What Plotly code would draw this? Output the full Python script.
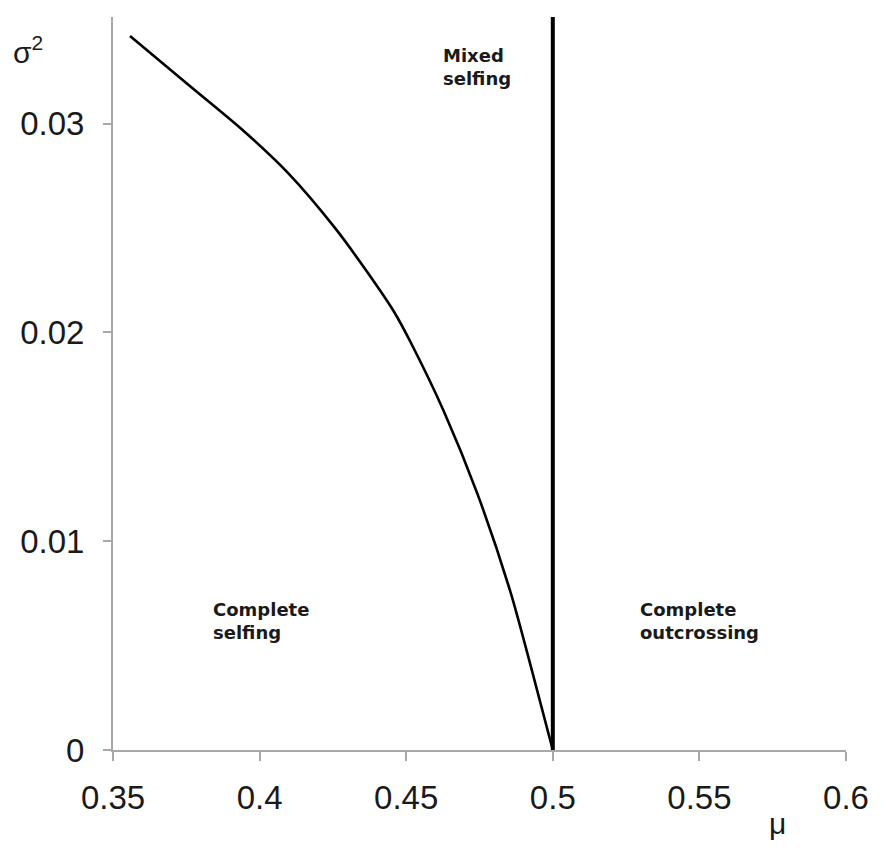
import plotly.graph_objects as go

# boundary between complete and mixed selfing
mu_curve = [0.3558, 0.3760, 0.3941, 0.4099, 0.4257, 0.4369, 0.4460, 0.4516,
            0.4629, 0.4742, 0.4855, 0.4928, 0.5]
sigma_curve = [0.03419, 0.03182, 0.02970, 0.02760, 0.02500, 0.02285, 0.02095, 0.01950,
               0.01620, 0.01230, 0.00760, 0.00385, 0.0]

# vertical boundary at mu = 0.5
mu_vline = [0.5, 0.5]
sigma_vline = [0.0, 0.0351]

x_ticks = [0.35, 0.4, 0.45, 0.5, 0.55, 0.6]
x_tick_labels = ["0.35", "0.4", "0.45", "0.5", "0.55", "0.6"]
y_ticks = [0, 0.01, 0.02, 0.03]
y_tick_labels = ["0", "0.01", "0.02", "0.03"]

region_labels = ["Complete<br>selfing", "Mixed<br>selfing", "Complete<br>outcrossing"]
region_x = [0.3835, 0.462, 0.529]
region_y = [0.0062, 0.0327, 0.0062]

AXIS_GREY = "#a8a8a8"
TEXT = "#1a1a1a"

fig = go.Figure()
fig.add_trace(go.Scatter(x=mu_curve, y=sigma_curve, mode="lines",
                         line=dict(color="black", width=2.6, shape="spline", smoothing=0.8),
                         showlegend=False, hoverinfo="skip"))
fig.add_trace(go.Scatter(x=mu_vline, y=sigma_vline, mode="lines",
                         line=dict(color="black", width=4),
                         showlegend=False, hoverinfo="skip"))

for lab, xx, yy in zip(region_labels, region_x, region_y):
    fig.add_annotation(x=xx, y=yy, xref="x", yref="y", text=lab, showarrow=False,
                       xanchor="left", yanchor="middle", align="left",
                       font=dict(family="DejaVu Sans", size=18, color=TEXT, weight="bold"))

# axis symbols
fig.add_annotation(x=-0.139, y=0.955, xref="paper", yref="paper", text="σ<sup>2</sup>",
                   showarrow=False, xanchor="left", yanchor="middle",
                   font=dict(family="Liberation Sans", size=30, color=TEXT))
fig.add_annotation(x=0.907, y=-0.100, xref="paper", yref="paper", text="μ",
                   showarrow=False, xanchor="center", yanchor="middle",
                   font=dict(family="Liberation Sans", size=30, color=TEXT))

fig.update_xaxes(range=[0.35, 0.6], tickvals=x_ticks, ticktext=x_tick_labels,
                 showgrid=False, zeroline=False, showline=True, linecolor=AXIS_GREY, linewidth=2,
                 ticks="outside", ticklen=9, tickwidth=1.5, tickcolor=AXIS_GREY,
                 ticklabelstandoff=8,
                 tickfont=dict(family="Liberation Sans", size=33, color=TEXT))
fig.update_yaxes(range=[0, 0.0351], tickvals=y_ticks, ticktext=y_tick_labels,
                 showgrid=False, zeroline=False, showline=True, linecolor=AXIS_GREY, linewidth=2,
                 ticks="outside", ticklen=8, tickwidth=1.5, tickcolor=AXIS_GREY,
                 ticklabelstandoff=12,
                 tickfont=dict(family="Liberation Sans", size=33, color=TEXT))

# page has an 8px body margin, so the figure is a little smaller than the window
fig.update_layout(width=870, height=836,
                  margin=dict(l=105, r=26, t=9, b=94),
                  plot_bgcolor="white", paper_bgcolor="white")

fig.write_html("out.html")
